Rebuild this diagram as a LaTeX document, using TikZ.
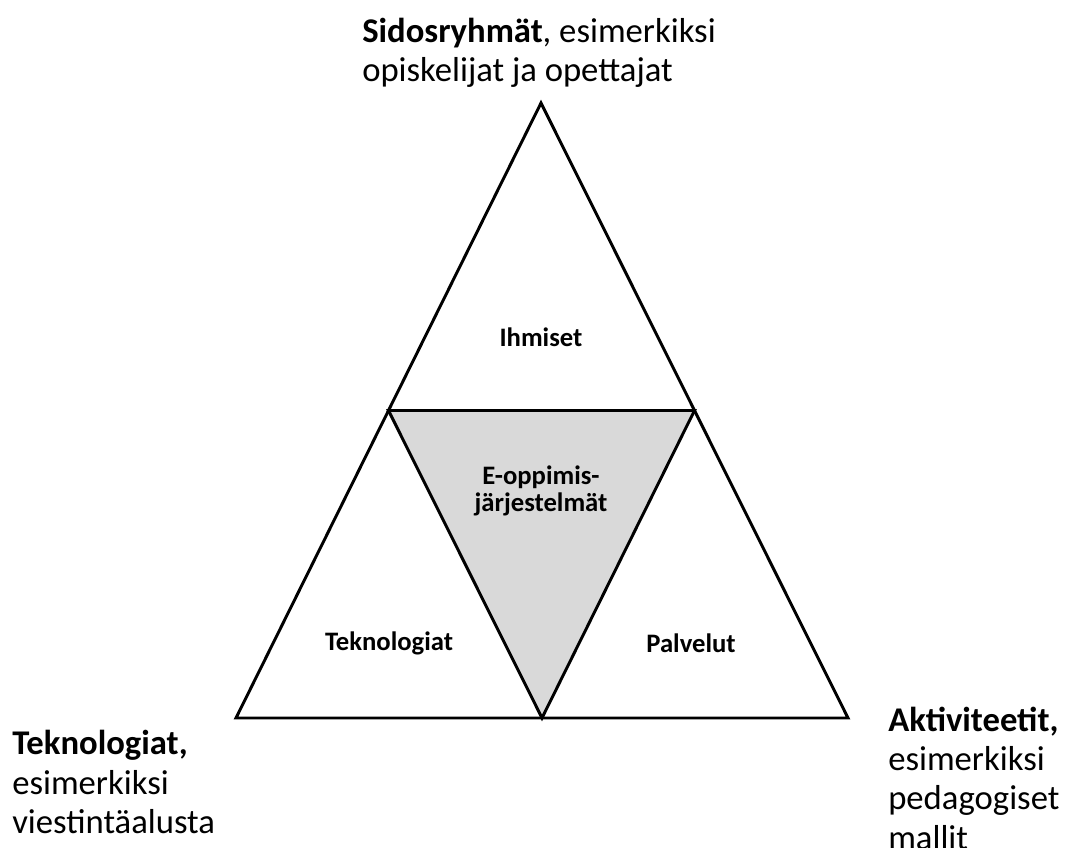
\documentclass[tikz,border=0pt]{standalone}
\usepackage{fontspec}
\setmainfont{Carlito}
\usepackage{xcolor}
\definecolor{coregray}{HTML}{D9D9D9}

\tikzset{
  edge/.style={draw=black, line width=2.2pt, line join=miter},
  part/.style={font=\fontsize{20}{20}\selectfont\bfseries, align=center, inner sep=0pt},
  corner/.style={font=\fontsize{26}{29.5}\selectfont, align=left, inner sep=0pt, anchor=west}
}

\begin{document}
\begin{tikzpicture}[x=0.75pt,y=-0.75pt]
          \useasboundingbox (0,0) rectangle (1067,848);
          % outer corners and midpoints
          \coordinate (T) at (541,103);
          \coordinate (L) at (236,718);
          \coordinate (R) at (848,718);
          \coordinate (ML) at (388.5,410.5);
          \coordinate (MR) at (694.5,410.5);
          \coordinate (MB) at (542,718);
          % grey middle triangle
          \fill[coregray] (ML) -- (MR) -- (MB) -- cycle;
          \draw[edge] (T) -- (L) -- (R) -- cycle;
          \draw[edge] (ML) -- (MR) -- (MB) -- cycle;
          % texts inside
          \node[part] (ihm) at (541,337) {Ihmiset};
          \node[part] (eop) at (541,491) {E-oppimis-\\järjestelmät};
          \node[part] (tek) at (389,643) {Teknologiat};
          \node[part] (pal) at (691,643) {Palvelut};
          % corner texts
          \node[corner] (sid) at (362,53) {\textbf{Sidosryhmät}, esimerkiksi\\opiskelijat ja opettajat};
          \node[corner] (tkn) at (12,782) {\textbf{Teknologiat,}\\esimerkiksi\\viestintäalusta};
          \node[corner] (akt) at (888,778) {\textbf{Aktiviteetit,}\\esimerkiksi\\pedagogiset\\mallit};
        \end{tikzpicture}
\end{document}
